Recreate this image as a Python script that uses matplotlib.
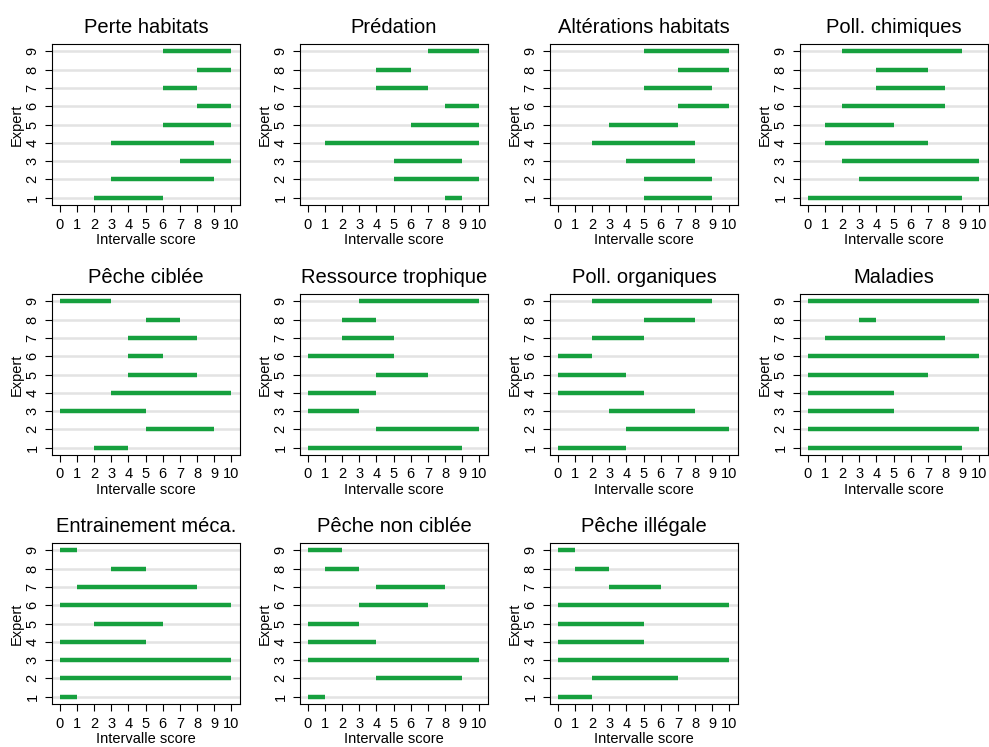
import matplotlib.pyplot as plt

plt.rcParams['font.family'] = ['Liberation Sans', 'DejaVu Sans']

titres = ['Perte habitats', 'Prédation', 'Altérations habitats', 'Poll. chimiques',
          'Pêche ciblée', 'Ressource trophique', 'Poll. organiques', 'Maladies',
          'Entrainement méca.', 'Pêche non ciblée', 'Pêche illégale']

experts = [1, 2, 3, 4, 5, 6, 7, 8, 9]

# bornes basses / hautes par expert (1..9)
bas = [
    [2, 3, 7, 3, 6, 8, 6, 8, 6],
    [8, 5, 5, 1, 6, 8, 4, 4, 7],
    [5, 5, 4, 2, 3, 7, 5, 7, 5],
    [0, 3, 2, 1, 1, 2, 4, 4, 2],
    [2, 5, 0, 3, 4, 4, 4, 5, 0],
    [0, 4, 0, 0, 4, 0, 2, 2, 3],
    [0, 4, 3, 0, 0, 0, 2, 5, 2],
    [0, 0, 0, 0, 0, 0, 1, 3, 0],
    [0, 0, 0, 0, 2, 0, 1, 3, 0],
    [0, 4, 0, 0, 0, 3, 4, 1, 0],
    [0, 2, 0, 0, 0, 0, 3, 1, 0],
]
haut = [
    [6, 9, 10, 9, 10, 10, 8, 10, 10],
    [9, 10, 9, 10, 10, 10, 7, 6, 10],
    [9, 9, 8, 8, 7, 10, 9, 10, 10],
    [9, 10, 10, 7, 5, 8, 8, 7, 9],
    [4, 9, 5, 10, 8, 6, 8, 7, 3],
    [9, 10, 3, 4, 7, 5, 5, 4, 10],
    [4, 10, 8, 5, 4, 2, 5, 8, 9],
    [9, 10, 5, 5, 7, 10, 8, 4, 10],
    [1, 10, 10, 5, 6, 10, 8, 5, 1],
    [1, 9, 10, 4, 3, 7, 8, 3, 2],
    [2, 7, 10, 5, 5, 10, 6, 3, 1],
]

vert = '#16a03e'

fig = plt.figure(figsize=(9.89, 7.47), dpi=100)

lefts = [52, 300, 550, 800]
bottoms = [205, 455, 704]
w, h = 188, 161

for k, titre in enumerate(titres):
    row, col = divmod(k, 4)
    ax = fig.add_axes([lefts[col] / 989, 1 - bottoms[row] / 747, w / 989, h / 747])
    for e in experts:
        ax.axhline(e, color='#e3e3e3', lw=1.8, zorder=1)
    ax.hlines(experts, bas[k], haut[k], color=vert, lw=3.2, zorder=2)
    ax.set_xlim(-0.45, 10.5)
    ax.set_ylim(0.6, 9.4)
    ax.set_xticks(range(11))
    ax.set_yticks(experts)
    ax.set_yticklabels([str(e) for e in experts], rotation=90, va='center')
    ax.tick_params(direction='out', length=5, width=0.8, labelsize=10.5, pad=4)
    for s in ax.spines.values():
        s.set_linewidth(0.8)
    ax.set_title(titre, fontsize=14.5, pad=8)
    ax.set_xlabel('Intervalle score', fontsize=10.5, labelpad=1)
    ax.set_ylabel('Expert', fontsize=10.5, labelpad=1)

fig.savefig('out.png', dpi=100)
